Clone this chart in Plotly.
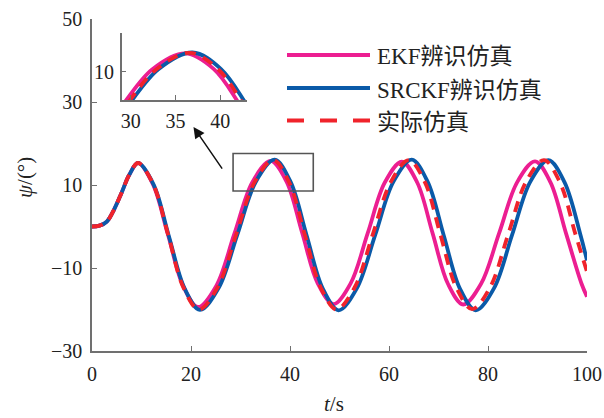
import plotly.graph_objects as go

# Heading angle psi (deg) versus time t (s) for the three simulations
t_ekf = [0, 1.5, 3, 4.5, 6, 7.5, 9.3, 12.3, 15.35, 18.4, 21.4, 25.1, 28.75, 32.4, 36.1,
         39.3, 42.45, 45.6, 48.8, 52.25, 55.7, 59.15, 62.6, 65.7, 68.8, 71.9, 75.0,
         78.6, 82.25, 85.9, 89.5, 92.6, 95.75, 98.9, 100]
psi_ekf = [0, 0.2, 1.2, 4.2, 8.2, 12.4, 15.3, 10.2, -2.0, -14.3, -19.4, -14.3, -1.8, 10.7, 15.8,
           10.8, -1.5, -13.7, -18.7, -13.7, -1.6, 10.6, 15.6, 10.6, -1.6, -13.8, -18.8,
           -13.8, -1.6, 10.7, 15.7, 10.7, -1.6, -13.8, -16.9]

t_srckf = [0, 1.5, 3, 4.5, 6, 7.5, 9.3, 12.45, 15.55, 18.7, 21.8, 25.6, 29.35, 33.1, 36.9,
           40.1, 43.35, 46.6, 49.8, 53.5, 57.2, 60.9, 64.6, 67.8, 71.05, 74.3, 77.5,
           81.2, 84.85, 88.5, 92.2, 95.45, 98.7, 100]
psi_srckf = [0, 0.2, 1.2, 4.2, 8.2, 12.4, 15.3, 10.1, -2.4, -14.9, -20.1, -14.8, -2.0, 10.8, 16.1,
             10.8, -2.1, -14.9, -20.2, -14.9, -2.1, 10.8, 16.1, 10.8, -2.1, -14.9, -20.2,
             -14.9, -2.1, 10.7, 16.0, 10.7, -2.1, -8.2]

t_real = [0, 1.5, 3, 4.5, 6, 7.5, 9.3, 12.4, 15.45, 18.5, 21.6, 25.35, 29.1, 32.85, 36.6,
          39.8, 43.0, 46.2, 49.4, 53.05, 56.7, 60.35, 64.0, 67.2, 70.4, 73.6, 76.8,
          80.4, 84.05, 87.7, 91.3, 94.5, 97.7, 100]
psi_real = [0, 0.2, 1.2, 4.2, 8.2, 12.4, 15.3, 10.1, -2.3, -14.8, -20.0, -14.7, -2.0, 10.7, 16.0,
            10.7, -2.0, -14.7, -20.0, -14.7, -2.0, 10.7, 16.0, 10.8, -2.0, -14.7, -19.9,
            -14.7, -2.0, 10.8, 16.0, 10.7, -2.0, -10.9]

series_names = ["EKF辨识仿真", "SRCKF辨识仿真", "实际仿真"]

x_ticks = [0, 20, 40, 60, 80, 100]
y_ticks = [-30, -10, 10, 30, 50]
inset_x_ticks = [30, 35, 40]
inset_y_ticks = [10]

PINK = "#EC1E91"
BLUE = "#0A5AA8"
RED = "#F0232B"
AXIS = "#707070"
TXT = "#222222"
SERIF = "'Liberation Serif', 'Times New Roman', 'Noto Sans CJK SC', serif"

styles = [
    dict(color=PINK, width=3.8, dash="solid"),
    dict(color=BLUE, width=3.8, dash="solid"),
    dict(color=RED, width=3.8, dash="11px,8px"),
]
data = [(t_ekf, psi_ekf), (t_srckf, psi_srckf), (t_real, psi_real)]

fig = go.Figure()
for axes in (("x", "y"), ("x2", "y2")):
    for (tt, vv), st, nm in zip(data, styles, series_names):
        fig.add_trace(go.Scatter(
            x=tt, y=vv, mode="lines", name=nm, showlegend=False,
            xaxis=axes[0], yaxis=axes[1],
            line=dict(shape="spline", smoothing=1.0, **st),
            hoverinfo="skip",
        ))

W, H = 604, 418
ML, MR, MT, MB = 92, 17, 19, 67
PW, PH = W - ML - MR, H - MT - MB


def px_x(p):
    return (p - ML) / PW


def px_y(p):
    return (H - MB - p) / PH


axis_common = dict(
    automargin=False,
    showline=True, linecolor=AXIS, linewidth=1.5, mirror=False,
    showgrid=False, zeroline=False, ticks="inside", ticklen=5,
    tickcolor=AXIS, tickwidth=1.3,
    tickfont=dict(family=SERIF, size=20, color=TXT),
)

fig.update_layout(
    width=W, height=H,
    margin=dict(l=ML, r=MR, t=MT, b=MB, pad=0, autoexpand=False),
    paper_bgcolor="white", plot_bgcolor="rgba(0,0,0,0)",
    xaxis=dict(range=[0, 100], tickvals=x_ticks, ticklabelstandoff=4, **axis_common),
    yaxis=dict(range=[-30, 50], tickvals=y_ticks, ticklabelstandoff=4, **axis_common),
    xaxis2=dict(domain=[px_x(121.7), px_x(247)], anchor="y2", range=[29, 43],
                tickvals=inset_x_ticks, ticklabelstandoff=2, **axis_common),
    yaxis2=dict(domain=[px_y(100), px_y(33.3)], anchor="x2", range=[1, 22.2],
                tickvals=inset_y_ticks, ticklabelstandoff=2, **axis_common),
    showlegend=False,
)

# zoom box around the second peak
fig.add_shape(type="rect", xref="x", yref="y", x0=28.5, x1=44.7, y0=8.55, y1=17.6,
              line=dict(color="#555555", width=1.6))

# arrow from the zoom box toward the inset
fig.add_annotation(x=20.5, y=24.0, ax=26.5, ay=13.6, xref="x", yref="y",
                   axref="x", ayref="y", text="", showarrow=True,
                   arrowhead=2, arrowsize=1.5, arrowwidth=1.5, arrowcolor="#111111",
                   standoff=0, startstandoff=0)

# legend drawn as line samples plus labels
legend_rows = [55, 88, 120.5]
for row_y, st, nm in zip(legend_rows, styles, series_names):
    dash = "17px,16px" if st["dash"] != "solid" else "solid"
    fig.add_shape(type="line", xref="paper", yref="paper",
                  x0=px_x(287), x1=px_x(370), y0=px_y(row_y), y1=px_y(row_y),
                  line=dict(color=st["color"], width=4.2, dash=dash))
    fig.add_annotation(x=px_x(375), y=px_y(row_y + 2), xref="paper", yref="paper",
                       text=nm, showarrow=False, xanchor="left", yanchor="middle",
                       font=dict(family=SERIF, size=23, color=TXT))

# axis titles
fig.add_annotation(x=px_x(25), y=px_y(178), xref="paper", yref="paper",
                   text="<i>ψ</i>/(°)", showarrow=False, textangle=-90,
                   xanchor="center", yanchor="middle",
                   font=dict(family=SERIF, size=21, color=TXT))
fig.add_annotation(x=px_x(334), y=px_y(404), xref="paper", yref="paper",
                   text="<i>t</i>/s", showarrow=False,
                   xanchor="center", yanchor="middle",
                   font=dict(family=SERIF, size=21, color=TXT))

fig.write_html("out.html")
